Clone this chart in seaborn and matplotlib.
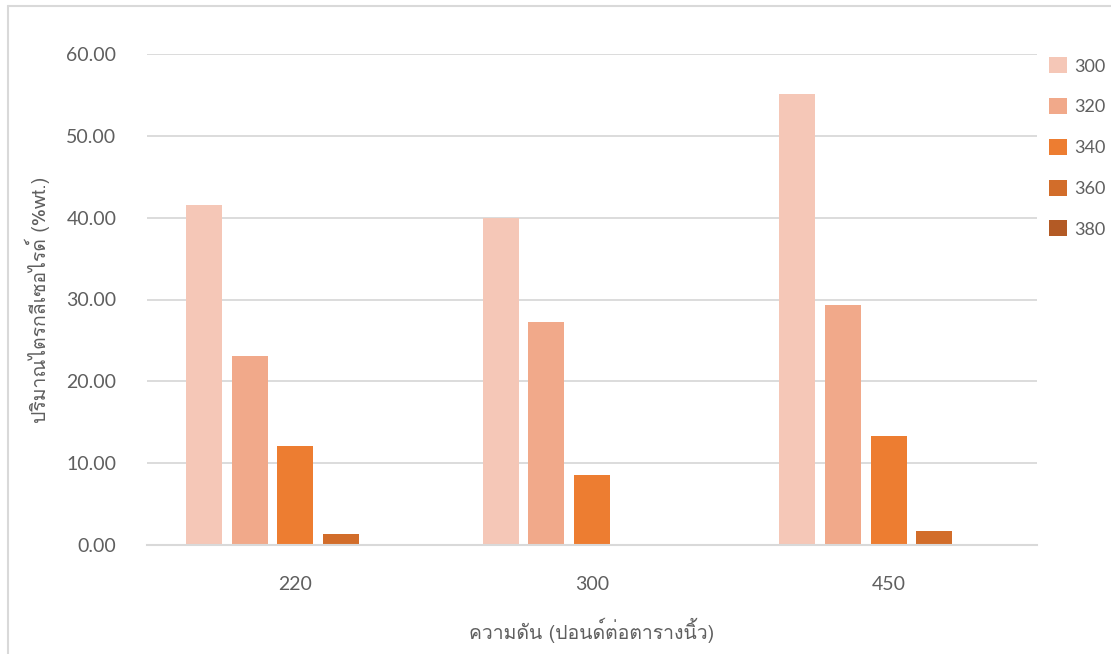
import matplotlib
matplotlib.use("Agg")
import matplotlib.pyplot as plt
from matplotlib import font_manager
from matplotlib.lines import Line2D
import seaborn as sns
import pandas as pd

# ---- data ----
pressures = ["220", "300", "450"]
temperatures = ["300", "320", "340", "360", "380"]
vals_300 = [41.55, 39.95, 55.10]
vals_320 = [23.15, 27.25, 29.30]
vals_340 = [12.15, 8.55, 13.30]
vals_360 = [1.35, 0.0, 1.70]
vals_380 = [0.0, 0.0, 0.0]
y_ticks = [0, 10, 20, 30, 40, 50, 60]
x_label = "ความดัน (ปอนด์ต่อตารางนิ้ว)"
y_label = "ปริมาณไตรกลีเซอไรด์ (%wt.)"

colors = ["#F5C7B7", "#F1A98A", "#ED7D31", "#D26D2A", "#B35A25"]

series = [vals_300, vals_320, vals_340, vals_360, vals_380]
rows = []
for t, vals in zip(temperatures, series):
    for p, v in zip(pressures, vals):
        rows.append({"pressure": p, "temp": t, "value": v})
df = pd.DataFrame(rows)

# find a Thai-capable font
thai_fonts = []
try:
    from fontTools.ttLib import TTFont
    seen = set()
    for f in font_manager.fontManager.ttflist:
        if f.name in seen:
            continue
        try:
            tt = TTFont(f.fname, fontNumber=0, lazy=True)
            cmap = tt.getBestCmap()
            if cmap and 0x0E01 in cmap and 0x0E4C in cmap:
                thai_fonts.append(f.name)
                seen.add(f.name)
        except Exception:
            pass
except Exception:
    pass

sns.set_theme(style="white")
base_font = ["Lato"] + thai_fonts + ["DejaVu Sans"]
plt.rcParams["font.family"] = base_font

text_color = "#5F5F5F"
fig = plt.figure(figsize=(11.11, 6.54), dpi=100)
ax = fig.add_axes([147 / 1111, 1 - 545 / 654, (1037 - 147) / 1111, (545 - 54) / 654])

sns.barplot(data=df, x="pressure", y="value", hue="temp", order=pressures,
            hue_order=temperatures, palette=colors, width=0.77, gap=0.21,
            saturation=1, ax=ax, legend=True, edgecolor="none")

ax.set_ylim(0, 60)
ax.set_xlim(-0.5, 2.5)
ax.set_yticks(y_ticks)
ax.set_yticklabels([f"{v:.2f}" for v in y_ticks], color=text_color, fontsize=14)
ax.tick_params(axis="x", colors=text_color, labelsize=14, pad=22, length=0)
ax.tick_params(axis="y", colors=text_color, pad=22, length=0)
ax.yaxis.grid(True, color="#D9D9D9", linewidth=1.3)
ax.set_axisbelow(True)
for s in ["top", "right", "left"]:
    ax.spines[s].set_visible(False)
ax.spines["bottom"].set_color("#D9D9D9")
ax.spines["bottom"].set_linewidth(1.5)

ax.set_xlabel(x_label, color=text_color, fontsize=14, labelpad=18,
              family=thai_fonts + ["DejaVu Sans"])
ax.set_ylabel(y_label, color=text_color, fontsize=14, labelpad=12,
              family=thai_fonts + ["DejaVu Sans"])

leg = ax.legend(loc="upper left", bbox_to_anchor=(1.005, 1.008), frameon=False,
                handlelength=1.0, handleheight=1.0, labelspacing=1.3,
                handletextpad=0.4, borderaxespad=0,
                prop={"family": base_font, "size": 13})
for t in leg.get_texts():
    t.set_color(text_color)

# chart border (left and top edges visible)
fig.add_artist(Line2D([8 / 1111, 8 / 1111], [0, 1 - 6 / 654], transform=fig.transFigure,
                      color="#D9D9D9", linewidth=1.5))
fig.add_artist(Line2D([8 / 1111, 1], [1 - 6 / 654, 1 - 6 / 654], transform=fig.transFigure,
                      color="#D9D9D9", linewidth=1.5))

fig.savefig("out.png", dpi=100)
